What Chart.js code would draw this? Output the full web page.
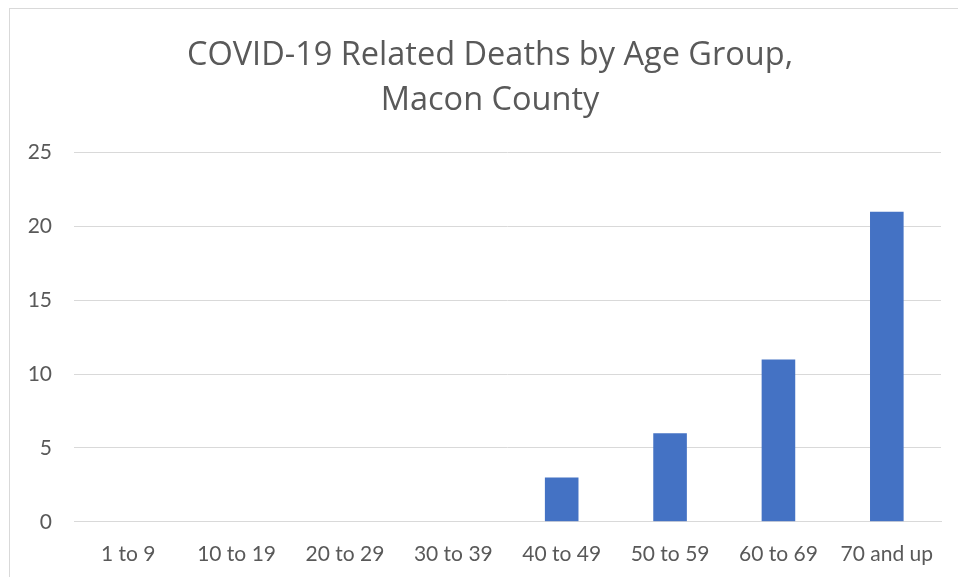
<!DOCTYPE html>
<html>
<head>
<meta charset="utf-8">
<script src="https://cdn.jsdelivr.net/npm/chart.js@4.4.0/dist/chart.umd.min.js"></script>
<style>
  html, body { margin: 0; padding: 0; background: #fff; overflow: hidden; }
  #wrap { position: relative; width: 958px; height: 577px; overflow: hidden; }
  #frame {
    position: absolute; left: 9px; top: 8px; width: 960px; height: 600px;
    border: 1px solid #d9d9d9; box-sizing: border-box;
  }
  #chart { position: absolute; left: 0; top: 0; }
</style>
</head>
<body>
<div id="wrap">
  <div id="frame"></div>
  <canvas id="chart" width="958" height="600"></canvas>
</div>
<script>
// -----------------------------
// Data
// -----------------------------
const ageGroups = ['1 to 9', '10 to 19', '20 to 29', '30 to 39', '40 to 49', '50 to 59', '60 to 69', '70 and up'];
const deaths = [0, 0, 0, 0, 3, 6, 11, 21];
const titleLines = ['COVID-19 Related Deaths by Age Group,', 'Macon County'];

const textColor = '#595959';
const gridColor = '#d9d9d9';
const tickFont = { family: 'Lato, "Open Sans", sans-serif', size: 21 };
const titleFont = { family: '"Open Sans", Lato, sans-serif', size: 32.5, weight: 'normal', lineHeight: 1.38 };

// nudge the title so it is centred over the framed area, not the whole canvas
const shiftTitle = {
  id: 'shiftTitle',
  afterLayout(chart) {
    if (chart.titleBlock) {
      chart.titleBlock.left = 40;
      chart.titleBlock.right = 940;
    }
  }
};

const ctx = document.getElementById('chart').getContext('2d');
new Chart(ctx, {
  type: 'bar',
  data: {
    labels: ageGroups,
    datasets: [{
      label: 'Deaths',
      data: deaths,
      backgroundColor: '#4472C4',
      categoryPercentage: 1,
      barPercentage: 0.31
    }]
  },
  options: {
    responsive: false,
    animation: false,
    layout: { padding: { left: 0, right: 17, top: 33, bottom: 13 } },
    plugins: {
      legend: { display: false },
      tooltip: { enabled: false },
      title: {
        display: true,
        text: titleLines,
        color: textColor,
        font: titleFont,
        padding: { top: 0, bottom: 30 }
      }
    },
    scales: {
      x: {
        grid: { display: false, drawTicks: false },
        border: { display: true, color: gridColor, width: 1 },
        ticks: { color: textColor, font: tickFont, padding: 20, maxRotation: 0 }
      },
      y: {
        min: 0,
        max: 25,
        afterFit: scale => { scale.width = 74; },
        grid: { color: gridColor, drawTicks: false },
        border: { display: false },
        ticks: { stepSize: 5, color: textColor, font: tickFont, padding: 22 }
      }
    }
  },
  plugins: [shiftTitle]
});
</script>
</body>
</html>
